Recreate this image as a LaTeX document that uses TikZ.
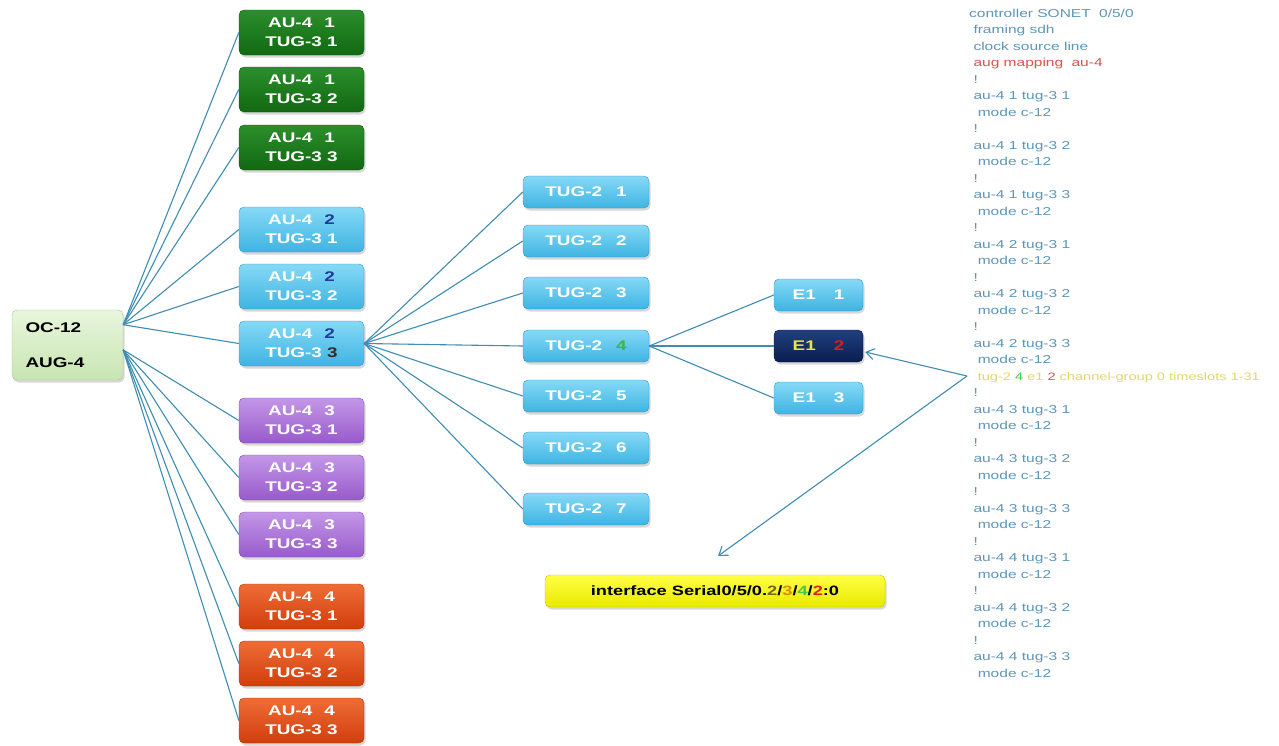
\documentclass[tikz,border=0pt]{standalone}
\usepackage{fontspec}
\setmainfont{Liberation Sans}[FakeStretch=1.35]
\usetikzlibrary{arrows.meta,shadows}

\definecolor{grnT}{HTML}{2B8F2B}\definecolor{grnB}{HTML}{126812}
\definecolor{bluT}{HTML}{86D9F6}\definecolor{bluB}{HTML}{3EB4E2}
\definecolor{purT}{HTML}{C497E8}\definecolor{purB}{HTML}{985ACB}
\definecolor{orgT}{HTML}{EF6C36}\definecolor{orgB}{HTML}{D13E0C}
\definecolor{navT}{HTML}{213F80}\definecolor{navB}{HTML}{0A1E4E}
\definecolor{yelT}{HTML}{FFFF45}\definecolor{yelB}{HTML}{E9E900}
\definecolor{ocT}{HTML}{E8F6DD}\definecolor{ocB}{HTML}{C8E5B2}
\definecolor{linkc}{HTML}{3E8DB2}
\definecolor{numblue}{HTML}{1F3C9C}
\definecolor{numdark}{HTML}{3A2A22}
\definecolor{numgreen}{HTML}{3DB83D}
\definecolor{numred}{HTML}{D81E1E}
\definecolor{e1yel}{HTML}{E6E640}
\definecolor{cfgc}{HTML}{5E96B8}
\definecolor{cfgred}{HTML}{D9534F}
\definecolor{cfgyel}{HTML}{E4D56A}
\definecolor{serA}{HTML}{7A6420}
\definecolor{serB}{HTML}{E08A00}
\definecolor{serC}{HTML}{45C845}
\definecolor{serD}{HTML}{E02010}

\newcommand{\indA}{\hspace*{4.3pt}}
\newcommand{\indB}{\hspace*{8.6pt}}

\begin{document}
\begin{tikzpicture}[x=1pt,y=-1pt,
  box/.style={rounded corners=5pt, inner sep=0pt, align=center,
    draw=#1B!85!black, line width=0.4pt, top color=#1T, bottom color=#1B,
    font=\bfseries\fontsize{14}{19}\selectfont,
    drop shadow={shadow xshift=1.5pt, shadow yshift=-2.5pt, opacity=0.3}},
  aubox/.style={box=#1, minimum width=125pt, minimum height=45pt, text=white},
  tugbox/.style={box=blu, minimum width=126pt, minimum height=32pt, text=white},
  ebox/.style={box=#1, minimum width=89pt, minimum height=32pt},
  link/.style={draw=linkc, line width=1.1pt},
  ptr/.style={draw=linkc, line width=1.1pt, -{Straight Barb[length=8pt,width=11pt]}},
  cfg/.style={inner sep=0pt, align=left, text=cfgc,
    font=\fontsize{11.5}{16.5}\selectfont}]

\useasboundingbox (0,0) rectangle (1279,745);
\fill[white] (0,0) rectangle (1279,745);

% root
\node[box=oc, minimum width=111pt, minimum height=70pt, text width=84pt,
      align=left, font=\bfseries\fontsize{14}{35}\selectfont]
      (oc) at (67.5,345) {OC-12\\AUG-4};

% AU-4 / TUG-3 column
\node[aubox=grn] (g1) at (301.5,32.5)  {AU-4\hspace{12pt}1\\TUG-3 1};
\node[aubox=grn] (g2) at (301.5,89.5)  {AU-4\hspace{12pt}1\\TUG-3 2};
\node[aubox=grn] (g3) at (301.5,147.5) {AU-4\hspace{12pt}1\\TUG-3 3};
\node[aubox=blu] (b1) at (301.5,229.5) {AU-4\hspace{12pt}\textcolor{numblue}{2}\\TUG-3 1};
\node[aubox=blu] (b2) at (301.5,286.5) {AU-4\hspace{12pt}\textcolor{numblue}{2}\\TUG-3 2};
\node[aubox=blu] (b3) at (301.5,343.5) {AU-4\hspace{12pt}\textcolor{numblue}{2}\\TUG-3 \textcolor{numdark}{3}};
\node[aubox=pur] (p1) at (301.5,420.5) {AU-4\hspace{12pt}3\\TUG-3 1};
\node[aubox=pur] (p2) at (301.5,477.5) {AU-4\hspace{12pt}3\\TUG-3 2};
\node[aubox=pur] (p3) at (301.5,534.5) {AU-4\hspace{12pt}3\\TUG-3 3};
\node[aubox=org] (r1) at (301.5,606.5) {AU-4\hspace{12pt}4\\TUG-3 1};
\node[aubox=org] (r2) at (301.5,663.5) {AU-4\hspace{12pt}4\\TUG-3 2};
\node[aubox=org] (r3) at (301.5,720.5) {AU-4\hspace{12pt}4\\TUG-3 3};

% TUG-2 column
\node[tugbox] (t1) at (586,192) {TUG-2\hspace{14pt}1};
\node[tugbox] (t2) at (586,241) {TUG-2\hspace{14pt}2};
\node[tugbox] (t3) at (586,293) {TUG-2\hspace{14pt}3};
\node[tugbox] (t4) at (586,346) {TUG-2\hspace{14pt}\textcolor{numgreen}{4}};
\node[tugbox] (t5) at (586,396) {TUG-2\hspace{14pt}5};
\node[tugbox] (t6) at (586,448) {TUG-2\hspace{14pt}6};
\node[tugbox] (t7) at (586,509) {TUG-2\hspace{14pt}7};

% E1 column
\node[ebox=blu, text=white] (e1) at (818.5,295) {E1\hspace{18pt}1};
\node[ebox=nav, text=e1yel] (e2) at (818.5,346) {E1\hspace{18pt}\textcolor{numred}{2}};
\node[ebox=blu, text=white] (e3) at (818.5,398) {E1\hspace{18pt}3};

% resulting interface
\node[box=yel, minimum width=340pt, minimum height=32pt, text=black,
      font=\bfseries\fontsize{13.5}{16}\selectfont]
      (ser) at (715,591) {interface Serial0/5/0.\textcolor{serA}{2}/\textcolor{serB}{3}/\textcolor{serC}{4}/\textcolor{serD}{2}:0};

% connectors
\foreach \n in {g1,g2,g3,b1,b2,b3} \draw[link] (oc.20) -- (\n.west);
\foreach \n in {p1,p2,p3,r1,r2,r3} \draw[link] (oc.-5) -- (\n.west);
\foreach \n in {t1,t2,t3,t4,t5,t6,t7} \draw[link] (b3.east) -- (\n.west);
\foreach \n in {e1,e2,e3} \draw[link] (t4.east) -- (\n.west);

% configuration listing
\node[cfg, anchor=north west] (cfg) at (969,8.5) {%
controller SONET\hspace*{4pt} 0/5/0\\
\indA framing sdh\\
\indA clock source line\\
\indA\textcolor{cfgred}{aug mapping\hspace*{4pt} au-4}\\
\indA !\\
\indA au-4 1 tug-3 1\\
\indB mode c-12\\
\indA !\\
\indA au-4 1 tug-3 2\\
\indB mode c-12\\
\indA !\\
\indA au-4 1 tug-3 3\\
\indB mode c-12\\
\indA !\\
\indA au-4 2 tug-3 1\\
\indB mode c-12\\
\indA !\\
\indA au-4 2 tug-3 2\\
\indB mode c-12\\
\indA !\\
\indA au-4 2 tug-3 3\\
\indB mode c-12\\
\indB{\fontsize{10.8}{16.5}\selectfont\textcolor{cfgyel}{tug-2 \textcolor{serC}{4} e1 \textcolor{cfgred}{2} channel-group 0 timeslots 1-31}}\\
\indA !\\
\indA au-4 3 tug-3 1\\
\indB mode c-12\\
\indA !\\
\indA au-4 3 tug-3 2\\
\indB mode c-12\\
\indA !\\
\indA au-4 3 tug-3 3\\
\indB mode c-12\\
\indA !\\
\indA au-4 4 tug-3 1\\
\indB mode c-12\\
\indA !\\
\indA au-4 4 tug-3 2\\
\indB mode c-12\\
\indA !\\
\indA au-4 4 tug-3 3\\
\indB mode c-12};

% pointers from the channel-group line
\coordinate (src) at (967,376);
\coordinate (tgt) at (718,556);
\draw[ptr] (src) -- ([xshift=2pt,yshift=-6pt]e2.east);
\draw[ptr] (src) -- (tgt);
\end{tikzpicture}
\end{document}
